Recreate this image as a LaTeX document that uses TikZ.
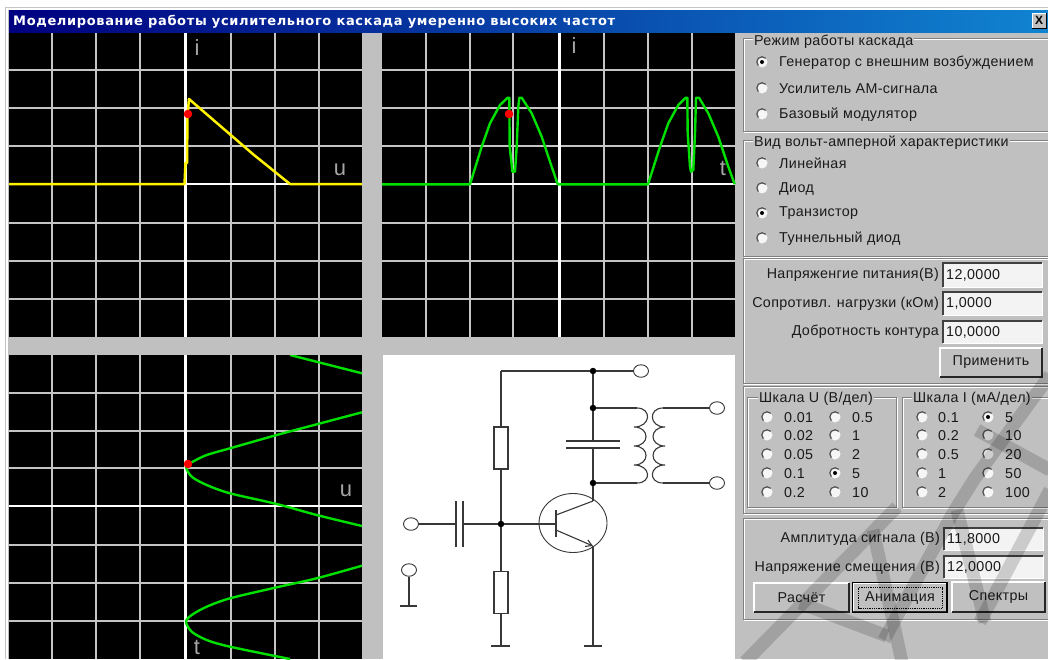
\documentclass[tikz,border=0pt]{standalone}
\usepackage{fontspec}
\setmainfont{Liberation Sans}[LetterSpace=2.5]
\newfontfamily\titlefont{DejaVu Sans Bold}[LetterSpace=5]
\usetikzlibrary{shapes.geometric,arrows.meta}
\definecolor{win}{HTML}{C0C0C0}
\definecolor{gridc}{HTML}{C4C4C4}
\definecolor{tdark}{HTML}{1A1A1A}
\definecolor{dk}{HTML}{808080}
\definecolor{wire}{HTML}{383838}
\definecolor{ygreen}{HTML}{00E000}
\tikzset{
  gridline/.style={gridc,line width=1.1pt},
  axisline/.style={white,line width=2.2pt},
  vaxis/.style={white,line width=3pt},
  lbl/.style={inner sep=0pt,text=tdark,font=\fontsize{14.3}{15}\selectfont},
  lblw/.style={lbl,anchor=west},
  lble/.style={lbl,anchor=east},
  grp/.style={lbl,anchor=west,fill=win,inner xsep=1pt},
  plotlbl/.style={inner sep=0pt,text=black!35,font=\fontsize{22}{24}\selectfont},
  radiodot/.style={circle,fill=black,minimum size=4pt,inner sep=0pt},
  wireline/.style={wire,line width=1.1pt},
  junction/.style={circle,fill=black,minimum size=6.5pt,inner sep=0pt},
  terminal/.style={ellipse,draw=wire,fill=white,line width=.9pt,minimum width=15pt,minimum height=12.5pt,inner sep=0pt},
  resistor/.style={rectangle,draw=wire,fill=white,line width=1.1pt,minimum width=14pt,minimum height=42pt,inner sep=0pt},
  groundbar/.style={wire,line width=2pt},
  curve/.style={ygreen,line width=2.4pt,line join=round},
  watermark/.style={black,opacity=.16,line width=13pt},
}
% x1 y1 x2 y2 etched frame
\newcommand\etched[4]{%
  \draw[white,line width=1pt] (#1+1,#2+1) rectangle (#3+1,#4+1);
  \draw[dk,line width=1pt] (#1,#2) rectangle (#3,#4);}
% name x y
\newcommand\radiobtn[3]{%
  \node[circle,fill=white!85!win,minimum size=11pt,inner sep=0pt] (#1) at (#2,#3) {};
  \draw[dk!60!black,line width=1.2pt] (#2+3.7,#3-3.7) arc[start angle=-45,end angle=-225,radius=5.2];}
\newcommand\fieldbox[5]{% name x1 y1 x2 y2 -> text set separately
  \fill[white!80!win] (#2,#3) rectangle (#4,#5);
  \draw[black!75,line width=1.4pt] (#2,#5) -- (#2,#3) -- (#4,#3);
  \draw[white,line width=1pt] (#2,#5) -- (#4,#5) -- (#4,#3);
  \coordinate (#1) at (#2+3,{(#3+#5)/2});}
\newcommand\btn[6]{% name x1 y1 x2 y2 text
  \fill[win] (#2,#3) rectangle (#4,#5);
  \draw[white,line width=1.2pt] (#2,#5) -- (#2,#3) -- (#4,#3);
  \draw[black!85,line width=1.4pt] (#2,#5) -- (#4,#5) -- (#4,#3);
  \node[lbl] (#1) at ({(#2+#4)/2},{(#3+#5)/2}) {#6};}
\begin{document}
\begin{tikzpicture}[x=1pt,y=-1pt]
\useasboundingbox (0,0) rectangle (1048,659);
\fill[white] (0,0) rectangle (1048,659);
\draw[gridc,line width=1pt] (5,659) -- (5,7.5) -- (1048,7.5);
\fill[win] (8,10) rectangle (1048,659);
\shade[left color=black!0!blue!50!black,right color={rgb,255:red,16;green,132;blue,208}] (9,10) rectangle (1048,32);
\node[inner sep=0pt,anchor=west,text=white] (title) at (13,21.5) {\titlefont\fontsize{13}{14}\selectfont Моделирование работы усилительного каскада умеренно высоких частот};
\fill[win] (1032,13) rectangle (1046,28);
\draw[white,line width=1pt] (1032,28) -- (1032,13) -- (1046,13);
\draw[black,line width=1pt] (1032,28) -- (1046,28) -- (1046,13);
\node[inner sep=0pt,text=black] (closex) at (1039,20.5) {\fontsize{12}{12}\selectfont\bfseries X};
% plot 1
\fill[black] (9,33) rectangle (362,337);
\foreach \v in {52,96,140,231,275,319} \draw[gridline] (\v,33) -- (\v,337);
\foreach \h in {70,108,146,223,261,299} \draw[gridline] (9,\h) -- (362,\h);
\draw[vaxis] (185,33) -- (185,337);
\draw[axisline] (9,184) -- (362,184);
\draw[yellow,line width=2.5pt,line join=round] (9,184) -- (184.5,184) -- (185.5,163) -- (187,163) -- (187.5,115) -- (189,99) -- (254,155) -- (290,184) -- (362,184);
\fill[red] (188,114) circle[radius=4.3];
\node[plotlbl] (i1) at (197,48) {i};
\node[plotlbl] (u1) at (340,170) {u};
% plot 2
\fill[black] (382,33) rectangle (735,337);
\foreach \v in {426,470,513,604,648,692} \draw[gridline] (\v,33) -- (\v,337);
\foreach \h in {70,108,146,223,261,299} \draw[gridline] (382,\h) -- (735,\h);
\draw[vaxis] (559,33) -- (559,337);
\draw[axisline] (382,184) -- (735,184);
\draw[curve] (382,184.3) -- (470,184.3) -- (481.7,146.7) -- (490,123.3) -- (500,105) -- (507.7,97.7) -- (509.3,97.7) -- (509.7,146.7) -- (511.7,165) -- (512.3,171.7) -- (515,171.7) -- (516.7,146.7) -- (518.3,106.7) -- (519.3,97.7) -- (521.7,97.7) -- (531.7,113.3) -- (541.7,136.7) -- (551.7,166.7) -- (557.7,184.3) -- (648,184.3) -- (660,146.7) -- (668.3,123.3) -- (678.3,105) -- (685.7,97.7) -- (687.3,97.7) -- (687.7,133.3) -- (690,166.7) -- (691,171.7) -- (693.3,170) -- (695,133.3) -- (696,97.7) -- (699,97.7) -- (708.3,113.3) -- (718.3,136.7) -- (728.3,166.7) -- (734.7,184.3);
\fill[red] (509,114) circle[radius=4.3];
\node[plotlbl] (i2) at (574,46) {i};
\node[plotlbl] (t2) at (723,168) {t};
% plot 3
\begin{scope}
\clip (9,355) rectangle (362,659);
\fill[black] (9,355) rectangle (362,659);
\foreach \v in {52,96,140,231,275,319} \draw[gridline] (\v,355) -- (\v,659);
\foreach \h in {393,431,468,545,583,621} \draw[gridline] (9,\h) -- (362,\h);
\draw[vaxis] (185,355) -- (185,659);
\draw[axisline] (9,506) -- (362,506);
\draw[curve] (290,355) -- (362,373.3);
\draw[curve] plot[smooth,tension=.5] coordinates {(362,412.3) (316.7,424.3) (276.7,435) (230,448.3) (206.7,455) (191.7,462.3) (186,466.7) (191.7,476.7) (206.7,485) (230,493.3) (276.7,504) (316.7,515) (362,526)};
\draw[curve] plot[smooth,tension=.5] coordinates {(362,565.7) (316.7,578.3) (276.7,587.3) (230,598.3) (206.7,606.7) (191.7,615) (186,621.7) (191.7,631.7) (206.7,640) (230,646.7) (290,659)};
\end{scope}
\fill[red] (188,464) circle[radius=4.3];
\node[plotlbl] (u3) at (346,491) {u};
\node[plotlbl] (t3) at (197,647) {t};
% circuit
\fill[white] (383,355) rectangle (735,659);
\coordinate (tl) at (501,371);
\node[junction] (jt) at (593,371) {};
\node[terminal] (tvcc) at (641,371) {};
\node[junction] (jc1) at (593,408) {};
\node[junction] (jc2) at (593,483) {};
\node[terminal] (to1) at (717,408) {};
\node[terminal] (to2) at (717,483) {};
\node[resistor] (r1) at (501,448) {};
\node[resistor] (r2) at (501,592.5) {};
\node[junction] (jb) at (501,524) {};
\node[terminal] (tin) at (411,524) {};
\node[terminal] (tgnd) at (409,570) {};
\coordinate (gr) at (501,646);
\coordinate (gt) at (593,646);
\coordinate (gi) at (409,606);
\coordinate (cp1) at (456,524);
\coordinate (cp2) at (463,524);
\coordinate (base) at (556,524);
\coordinate (coll) at (593,501);
\coordinate (emit) at (593,546);
\coordinate (ct) at (593,441);
\coordinate (cb) at (593,448);
\coordinate (lp1) at (637,408);
\coordinate (lp2) at (637,483);
\coordinate (ls1) at (663,408);
\coordinate (ls2) at (663,483);
\draw[wireline] (tl) -- (jt) -- (tvcc);
\draw[wireline] (tl) -- (r1);
\draw[wireline] (r1) -- (jb);
\draw[wireline] (jb) -- (r2);
\draw[wireline] (r2) -- (gr);
\draw[wireline] (jt) -- (jc1) -- (ct);
\draw[wireline] (cb) -- (jc2) -- (coll);
\draw[wireline] (tin) -- (cp1);
\draw[wireline] (cp2) -- (jb);
\draw[wireline] (jb) -- (base);
\draw[wireline] (emit) -- (gt);
\draw[wireline] (tgnd) -- (gi);
\draw[wireline] (jc1) -- (lp1);
\draw[wireline] (jc2) -- (lp2);
\draw[wireline] (ls1) -- (to1);
\draw[wireline] (ls2) -- (to2);
% capacitors
\draw[wireline,line width=1.2pt] (566,441) -- (620,441) (566,448) -- (620,448);
\draw[wireline,line width=1.2pt] (456,501) -- (456,547) (463,501) -- (463,547);
% coils
\draw[wireline] (lp1) .. controls (652,408) and (651,427) .. (634,427)
  .. controls (650,427) and (650,446) .. (634,446)
  .. controls (650,446) and (650,465) .. (634,465)
  .. controls (651,465) and (652,483) .. (lp2);
\draw[wireline] (ls1) .. controls (648,408) and (649,427) .. (665,427)
  .. controls (649,427) and (649,446) .. (665,446)
  .. controls (649,446) and (649,465) .. (665,465)
  .. controls (649,465) and (648,483) .. (ls2);
% transistor
\node[ellipse,draw=wire,line width=.9pt,minimum width=68pt,minimum height=59pt,inner sep=0pt] (q) at (573,523) {};
\draw[wireline,line width=1.5pt] (556,510) -- (556,537);
\coordinate (bc) at (556,515);
\coordinate (be) at (556,530);
\draw[wireline] (bc) -- (coll);
\draw[wireline,-{Straight Barb[length=6pt,width=7pt]}] (be) -- (emit);
% grounds
\draw[groundbar] (491,646) -- (510,646);
\draw[groundbar] (584,646) -- (602,646);
\draw[groundbar] (400,606) -- (417,606);
% panels
\etched{743}{38}{1050}{131}
\etched{743}{140}{1050}{256}
\etched{743}{258}{1050}{383}
\etched{743}{386}{1050}{513}
\etched{747}{397}{896}{507}
\etched{902}{397}{1050}{507}
\etched{743}{518}{1050}{619}
\node[grp] (g1) at (753,42) {Режим работы каскада};
\radiobtn{r11}{762}{62}\node[radiodot] (r11d) at (r11) {};
\node[lblw] (r11t) at (779,63) {Генератор с внешним возбуждением};
\radiobtn{r12}{762}{88}\node[lblw] (r12t) at (779,89) {Усилитель АМ-сигнала};
\radiobtn{r13}{762}{114}\node[lblw] (r13t) at (779,115) {Базовый модулятор};
\node[grp] (g2) at (753,143) {Вид вольт-амперной характеристики};
\radiobtn{r21}{762}{163}\node[lblw] (r21t) at (779,163.5) {Линейная};
\radiobtn{r22}{762}{188}\node[lblw] (r22t) at (779,188.5) {Диод};
\radiobtn{r23}{762}{213}\node[radiodot] (r23d) at (r23) {};
\node[lblw] (r23t) at (779,213.5) {Транзистор};
\radiobtn{r24}{762}{238}\node[lblw] (r24t) at (779,238.5) {Туннельный диод};
\node[lble] (p1) at (939,275) {Напряженгие питания(В)};
\fieldbox{f1}{943}{263}{1042}{287}\node[lblw] (f1t) at (f1) {12,0000};
\node[lble] (p2) at (939,304) {Сопротивл. нагрузки (кОм)};
\fieldbox{f2}{943}{292}{1042}{315}\node[lblw] (f2t) at (f2) {1,0000};
\node[lble] (p3) at (939,332) {Добротность контура};
\fieldbox{f3}{943}{321}{1042}{343}\node[lblw] (f3t) at (f3) {10,0000};
\btn{b1}{940}{348}{1042}{377}{Применить}
% scale U
\node[grp] (su) at (758,399) {Шкала U (В/дел)};
\foreach \n/\y/\a/\b in {1/417/0.01/0.5,2/435/0.02/1,3/454/0.05/2,4/473/0.1/5,5/492/0.2/10}{
  \radiobtn{ua\n}{767}{\y}\node[lblw] (uat\n) at (784,\y+.5) {\a};
  \radiobtn{ub\n}{835}{\y}\node[lblw] (ubt\n) at (852,\y+.5) {\b};
}
\node[radiodot] (ud) at (835,473) {};
\node[grp] (si) at (912,399) {Шкала I (мА/дел)};
\foreach \n/\y/\a/\b in {1/417/0.1/5,2/435/0.2/10,3/454/0.5/20,4/473/1/50,5/492/2/100}{
  \radiobtn{ia\n}{922}{\y}\node[lblw] (iat\n) at (938,\y+.5) {\a};
  \radiobtn{ib\n}{988}{\y}\node[lblw] (ibt\n) at (1005,\y+.5) {\b};
}
\node[radiodot] (id) at (988,417) {};
% bottom group
\node[lble] (p4) at (940,539) {Амплитуда сигнала (В)};
\fieldbox{f4}{944}{528}{1043}{550}\node[lblw] (f4t) at (f4) {11,8000};
\node[lble] (p5) at (940,568) {Напряжение смещения (В)};
\fieldbox{f5}{944}{556}{1043}{578}\node[lblw] (f5t) at (f5) {12,0000};
\btn{b2}{754}{583}{849}{612}{Расчёт}
\btn{b3}{853}{583}{947}{612}{Анимация}
\draw[black,line width=1.2pt] (852.5,582.5) rectangle (947,612.5);
\draw[black,line width=.8pt,densely dotted] (858.5,587.5) rectangle (942,608);
\btn{b4}{952}{582}{1045}{612}{Спектры}
% watermark
\begin{scope}
\clip (740,370) rectangle (1048,659);
\draw[watermark] (745,662) -- (897,507);
\draw[watermark] (800,603) -- (887,636);
\draw[watermark] (873,530) -- (902,662);
\draw[watermark] (884,640) -- (953,513);
\draw[watermark] (957,510) -- (985,622);
\draw[watermark] (980,622) -- (1050,490);
\draw[watermark] (953,513) -- (975,478) -- (1050,375);
\draw[watermark] (977,430) -- (1050,470);
\end{scope}
\end{tikzpicture}
\end{document}
